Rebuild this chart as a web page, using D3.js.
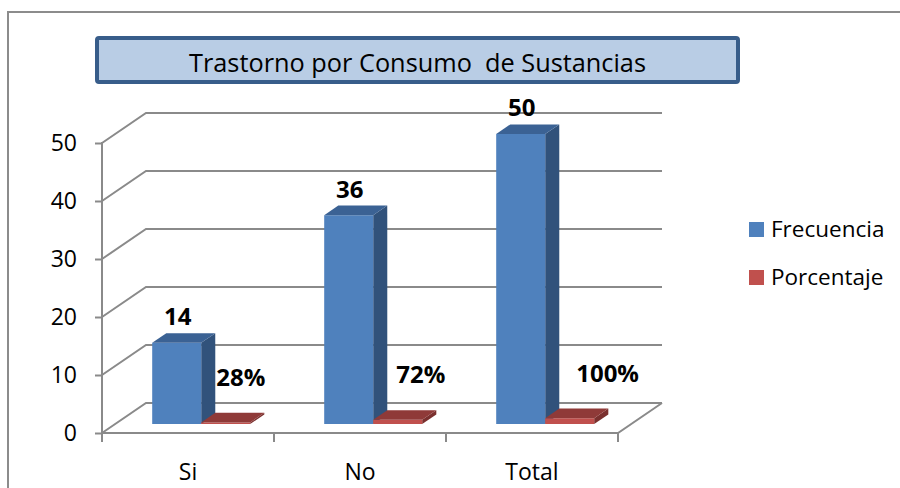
<!DOCTYPE html>
<html>
<head>
<meta charset="utf-8">
<script src="https://cdn.jsdelivr.net/npm/d3@7"></script>
<style>
  body { margin: 0; background: #fff; }
  text { font-family: "Open Sans", "Noto Sans", sans-serif; }
</style>
</head>
<body>
<div id="chart"></div>
<script>
(function() {
  var width = 900,
      height = 488;

  // data
  const categories = ["Si", "No", "Total"];
  const series = ["Frecuencia", "Porcentaje"];
  const frecuencia = [14, 36, 50];
  const porcentaje = [0.28, 0.72, 1.00];   // plotted on the same axis, so they stay flat
  const porcentajeLabels = ["28%", "72%", "100%"];
  const yTicks = [0, 10, 20, 30, 40, 50];
  const title = "Trastorno por Consumo  de Sustancias";

  const colors = {
    Frecuencia: { front: "#4f81bd", top: "#3b6294", side: "#31527b" },
    Porcentaje: { front: "#c0504d", top: "#8f3a38", side: "#7a302e" }
  };

  // 3d box: front plane, full depth offset
  const DX = 44, DY = 30;
  const dFront = 0.3, dBack = 0.62;

  const x = d3.scaleBand().domain(categories).range([102, 618]);
  const xs = d3.scaleBand().domain(series).range([0, x.bandwidth()]).paddingOuter(0.755);
  const y = d3.scaleLinear().domain([0, 50]).range([433, 143]);

  const svg = d3.select("#chart").append("svg")
      .attr("width", width)
      .attr("height", height);

  // outer frame (only top and left visible)
  svg.append("path")
    .attr("d", "M8," + height + "V12H" + width)
    .attr("fill", "none")
    .attr("stroke", "#8c8c8c")
    .attr("stroke-width", 2);

  // title box
  svg.append("rect")
    .attr("x", 97).attr("y", 38)
    .attr("width", 641).attr("height", 44)
    .attr("rx", 2)
    .attr("fill", "#b9cde5")
    .attr("stroke", "#385d8a")
    .attr("stroke-width", 4);
  svg.append("text")
    .attr("x", 417.5).attr("y", 72)
    .attr("text-anchor", "middle")
    .attr("font-size", 25)
    .attr("textLength", 457)
    .attr("lengthAdjust", "spacingAndGlyphs")
    .style("white-space", "pre")
    .attr("fill", "#000")
    .text(title);

  const grid = "#8a8a8a";
  const x0 = x.range()[0], x1 = x.range()[1];

  // wall gridlines
  svg.append("g")
    .selectAll("path")
    .data(yTicks)
    .join("path")
    .attr("d", d => "M" + x0 + "," + y(d) + "L" + (x0 + DX) + "," + (y(d) - DY) + "H" + (x1 + DX))
    .attr("fill", "none")
    .attr("stroke", grid)
    .attr("stroke-width", 2);

  // floor front edge
  svg.append("path")
    .attr("d", "M" + x0 + "," + y(0) + "H" + x1 + "L" + (x1 + DX) + "," + (y(0) - DY))
    .attr("fill", "none")
    .attr("stroke", grid)
    .attr("stroke-width", 2);

  // y axis
  const yAxis = svg.append("g")
    .attr("transform", "translate(" + x0 + ",0)")
    .call(d3.axisLeft(y).tickValues(yTicks).tickSize(7).tickSizeOuter(0).tickPadding(18));
  yAxis.select(".domain").remove();
  yAxis.selectAll(".tick line").attr("stroke", grid).attr("stroke-width", 2);
  yAxis.selectAll(".tick text")
    .attr("font-size", 23)
    .attr("fill", "#000")
    .attr("font-family", "Open Sans, sans-serif");
  svg.append("line")
    .attr("x1", x0).attr("x2", x0)
    .attr("y1", y(50) - 1).attr("y2", y(0) + 9)
    .attr("stroke", grid).attr("stroke-width", 2);

  // category ticks and labels
  const bounds = categories.map(c => x(c)).concat([x1]);
  svg.append("g")
    .selectAll("line")
    .data(bounds.slice(1))
    .join("line")
    .attr("x1", d => d).attr("x2", d => d)
    .attr("y1", y(0)).attr("y2", y(0) + 9)
    .attr("stroke", grid).attr("stroke-width", 2);
  svg.append("g")
    .selectAll("text")
    .data(categories)
    .join("text")
    .attr("x", d => x(d) + x.bandwidth() / 2)
    .attr("y", 480)
    .attr("text-anchor", "middle")
    .attr("font-size", 23)
    .text(d => d);

  // bars
  function box(cat, s, v) {
    const w = xs.bandwidth();
    const bx = x(cat) + xs(s) + DX * dFront;
    const yb = y(0) - DY * dFront;
    const yt = y(v) - DY * dFront;
    const dx = DX * (dBack - dFront), dy = DY * (dBack - dFront);
    return {
      front: [[bx, yt], [bx + w, yt], [bx + w, yb], [bx, yb]],
      top: [[bx, yt], [bx + w, yt], [bx + w + dx, yt - dy], [bx + dx, yt - dy]],
      side: [[bx + w, yt], [bx + w + dx, yt - dy], [bx + w + dx, yb - dy], [bx + w, yb]],
      x: bx,
      cx: bx + w / 2,
      backTop: yt - dy
    };
  }
  const line = d3.line();

  const bars = [];
  categories.forEach((c, i) => {
    bars.push({ cat: c, s: "Frecuencia", v: frecuencia[i] });
    bars.push({ cat: c, s: "Porcentaje", v: porcentaje[i] });
  });

  const gb = svg.append("g");
  bars.forEach(b => {
    const p = box(b.cat, b.s, b.v);
    const col = colors[b.s];
    gb.append("path").attr("d", line(p.side) + "Z").attr("fill", col.side);
    gb.append("path").attr("d", line(p.front) + "Z").attr("fill", col.front);
    gb.append("path").attr("d", line(p.top) + "Z").attr("fill", col.top);
  });

  // labels
  svg.append("g")
    .selectAll("text")
    .data(categories)
    .join("text")
    .attr("x", (c, i) => box(c, "Frecuencia", frecuencia[i]).cx + 1)
    .attr("y", (c, i) => box(c, "Frecuencia", frecuencia[i]).backTop - 8)
    .attr("text-anchor", "middle")
    .attr("font-size", 24)
    .attr("font-weight", "bold")
    .text((c, i) => frecuencia[i]);

  // percentage labels drift right with the perspective
  svg.append("g")
    .selectAll("text")
    .data(categories)
    .join("text")
    .attr("x", (c, i) => box(c, "Porcentaje", porcentaje[i]).x + 15 + 8 * i)
    .attr("y", (c, i) => box(c, "Porcentaje", porcentaje[i]).backTop - 27)
    .attr("font-size", 24)
    .attr("font-weight", "bold")
    .text((c, i) => porcentajeLabels[i]);

  // legend
  const lg = svg.append("g")
    .selectAll("g")
    .data(series)
    .join("g")
    .attr("transform", (d, i) => "translate(749," + (222 + i * 48) + ")");
  lg.append("rect")
    .attr("width", 15).attr("height", 15)
    .attr("fill", d => colors[d].front);
  lg.append("text")
    .attr("x", 22).attr("y", 15)
    .attr("font-size", 22.5)
    .text(d => d);
})();
</script>
</body>
</html>
